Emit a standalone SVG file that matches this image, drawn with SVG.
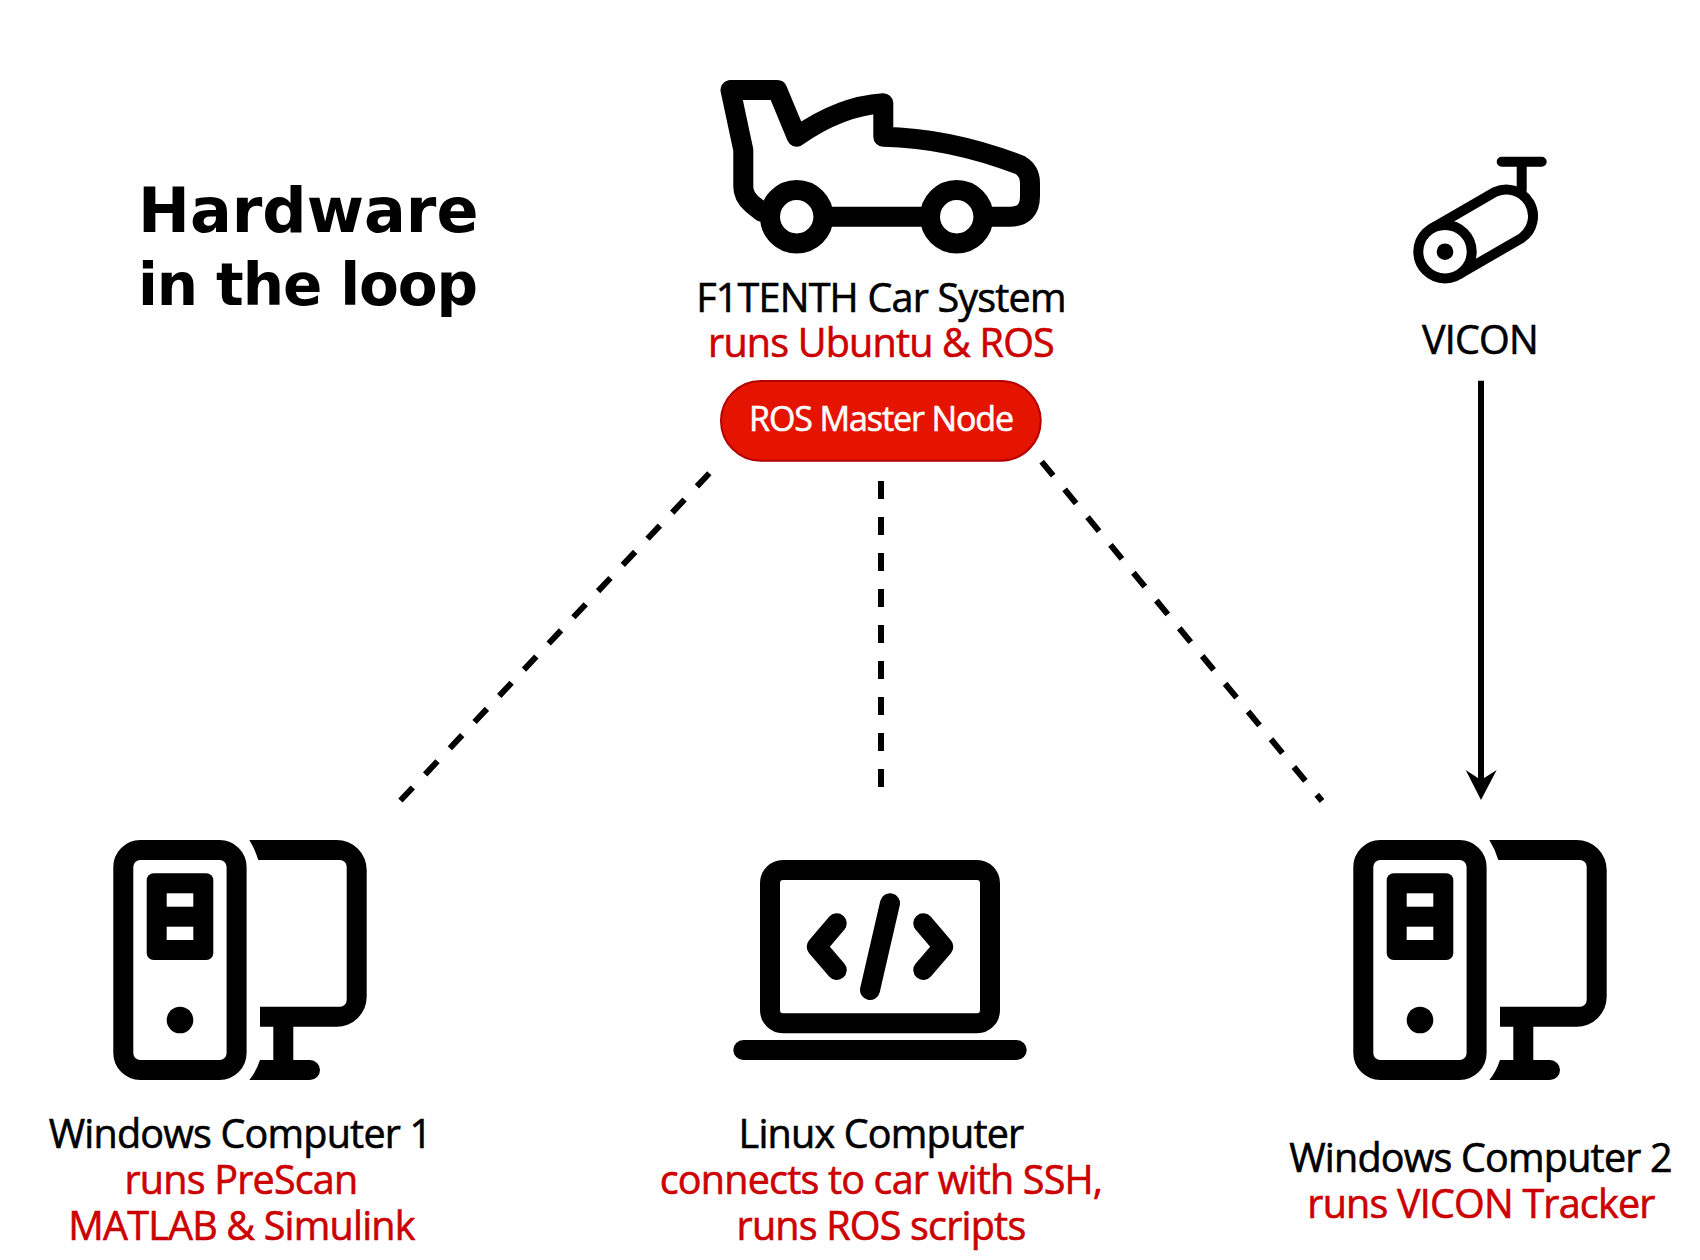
<svg xmlns="http://www.w3.org/2000/svg" width="1700" height="1260" viewBox="0 0 1700 1260">
<style>
.ln{fill:none;stroke:#000;stroke-width:20;stroke-linecap:round;stroke-linejoin:round}
.t{font-family:"Open Sans","Noto Sans",sans-serif;font-size:39.5px;letter-spacing:-.8px;text-anchor:middle;fill:#000;stroke:#000;stroke-width:.6px}
.r{fill:#cc0000;stroke:#cc0000}
.h{font-family:"DejaVu Sans",sans-serif;font-weight:bold;font-size:62px;fill:#000}
.d{fill:none;stroke:#000;stroke-width:6;stroke-dasharray:18 18}
</style>
<defs>
<g id="pc">
<rect x="123.3" y="850" width="113.3" height="220" rx="17" class="ln"/>
<rect x="146.7" y="873.3" width="66.6" height="86.7" rx="7" fill="#000"/>
<rect x="166.7" y="893.3" width="26.6" height="13.4" fill="#fff"/>
<rect x="166.7" y="926.7" width="26.6" height="13.3" fill="#fff"/>
<circle cx="180" cy="1020" r="13.3" fill="#000"/>
<path d="M249.3,840 H336.7 A30,30 0 0 1 366.7,870 V996.7 A30,30 0 0 1 336.7,1026.7 H293.3 V1060 H310 A10,10 0 0 1 310,1080 H249.3 Q256,1072 260,1060 H273.3 V1026.7 H260 V1006.7 H340 A6.7,6.7 0 0 0 346.7,1000 V866.7 A6.7,6.7 0 0 0 340,860 H258.3 Q255,849 249.3,840 Z" fill="#000"/>
</g>
</defs>
<rect width="1700" height="1260" fill="#fff"/>
<g id="title"><text class="h" x="138" y="231.7">Hardware</text><text class="h" x="138" y="304.5" style="font-size:58px;letter-spacing:-1.1px">in the loop</text></g>
<g id="connectors">
<path class="d" d="M709.3,473.3 L400,801"/>
<path class="d" d="M881,481 V787"/>
<path class="d" d="M1041.7,461.7 L1322,801"/>
<path d="M1481,380.7 V785" fill="none" stroke="#000" stroke-width="6"/>
<path d="M1465.7,770 L1481,800 L1496.7,770 L1481,780 Z" fill="#000"/>
</g>
<g id="car">
<path class="ln" d="M761.7,211.7 L752,204 Q743.3,196 743.3,186.7 V150 L730.5,90 H777.3 L796.7,136.7 Q840,106 883.3,103.3 V136.7 Q950,138 1020,165 Q1030,171 1030,183 V196 Q1030,216.7 1010,216.7 H991.7 M830,216.7 H925"/>
<circle cx="796.7" cy="216.7" r="26.7" fill="#fff" stroke="#000" stroke-width="20"/>
<circle cx="956.7" cy="216.7" r="26.7" fill="#fff" stroke="#000" stroke-width="20"/>
<text class="t" x="881" y="312">F1TENTH Car System</text>
<text class="t r" x="881" y="357">runs Ubuntu &amp; ROS</text>
</g>
<g id="ros">
<rect x="721" y="381" width="319.7" height="79.7" rx="39.8" fill="#e51400" stroke="#b20000" stroke-width="2"/>
<text class="t" x="881" y="431" style="font-size:34px;fill:#fff;stroke:#fff;letter-spacing:-1.1px">ROS Master Node</text>
</g>
<g id="vicon">
<path d="M1431.7,228.7 L1495,192 A26.7,26.7 0 0 1 1521.7,238 L1458.3,274.7" fill="none" stroke="#000" stroke-width="10"/>
<circle cx="1445" cy="251.7" r="26.7" fill="#fff" stroke="#000" stroke-width="10"/>
<circle cx="1445" cy="251.7" r="8.3" fill="#000"/>
<path d="M1501.7,161.7 H1541.7 M1521.7,161.7 V190" fill="none" stroke="#000" stroke-width="10" stroke-linecap="round"/>
<text class="t" x="1480" y="354">VICON</text>
</g>
<g id="pc1"><use href="#pc"/>
<text class="t" x="240" y="1148">Windows Computer 1</text>
<text class="t r" x="241" y="1194">runs PreScan</text>
<text class="t r" x="241.5" y="1240">MATLAB &amp; Simulink</text>
</g>
<g id="linux">
<rect x="770" y="870" width="220" height="153.3" rx="13" class="ln"/>
<path class="ln" d="M743.3,1050 H1016.7 M836.7,923.3 L816.7,946.7 L836.7,970 M923.3,923.3 L943.3,946.7 L923.3,970 M890,903.3 L870,990"/>
<text class="t" x="881" y="1148">Linux Computer</text>
<text class="t r" x="881" y="1194">connects to car with SSH,</text>
<text class="t r" x="881" y="1240">runs ROS scripts</text>
</g>
<g id="pc2"><use href="#pc" x="1240"/>
<text class="t" x="1480.5" y="1172">Windows Computer 2</text>
<text class="t r" x="1481" y="1218">runs VICON Tracker</text>
</g>
</svg>
